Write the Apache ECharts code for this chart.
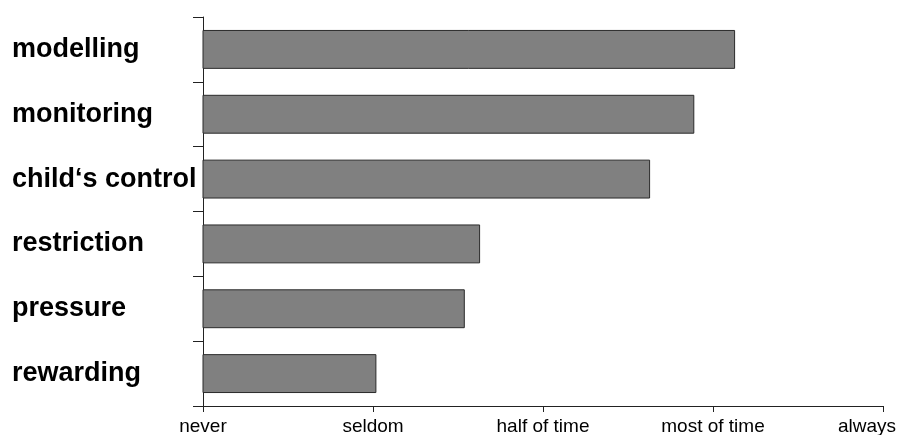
<!DOCTYPE html>
<html><head><meta charset="utf-8">
<script src="https://cdn.jsdelivr.net/npm/echarts@6/dist/echarts.min.js"></script>
<style>html,body{margin:0;padding:0;background:#fff}#c{width:900px;height:435px}</style>
</head><body><div id="c"></div>
<script>
var categories = ['rewarding', 'pressure', 'restriction', 'child\u2018s control', 'monitoring', 'modelling'];
var values = [2.02, 2.54, 2.63, 3.63, 3.89, 4.13];
var tickLabels = ['never', 'seldom', 'half of time', 'most of time', 'always'];

var chart = echarts.init(document.getElementById('c'));
chart.setOption({
  animation: false,
  backgroundColor: '#fff',
  grid: { left: 203, right: 17, top: 17, bottom: 29, containLabel: false, outerBoundsMode: 'none' },
  xAxis: {
    type: 'value', min: 1, max: 5, interval: 1,
    splitLine: { show: false },
    axisLine: { show: true, lineStyle: { color: '#222', width: 1 } },
    axisTick: { show: true, inside: false, length: 6, lineStyle: { color: '#222' } },
    axisLabel: {
      margin: 11, color: '#000', fontSize: 19, fontFamily: 'Liberation Sans, Arial, sans-serif',
      hideOverlap: false,
      formatter: function (v) {
        var i = Math.round(v) - 1;
        if (i === tickLabels.length - 1) return '{last|' + tickLabels[i] + '}';
        return tickLabels[i] || '';
      },
      rich: {
        last: { fontSize: 19, color: '#000', fontFamily: 'Liberation Sans, Arial, sans-serif', padding: [0, 32, 0, 0] }
      }
    }
  },
  yAxis: {
    type: 'category', data: categories,
    axisLine: { show: true, lineStyle: { color: '#222', width: 1 } },
    axisTick: { show: true, length: 10, lineStyle: { color: '#222' } },
    axisLabel: {
      margin: 191, align: 'left', color: '#000', fontSize: 27, fontWeight: 'bold',
      fontFamily: 'Liberation Sans, Arial, sans-serif'
    }
  },
  series: [{
    type: 'bar', data: values, barCategoryGap: '40%',
    itemStyle: { color: '#808080', borderColor: '#2a2a2a', borderWidth: 1 }
  }]
});
</script></body></html>
